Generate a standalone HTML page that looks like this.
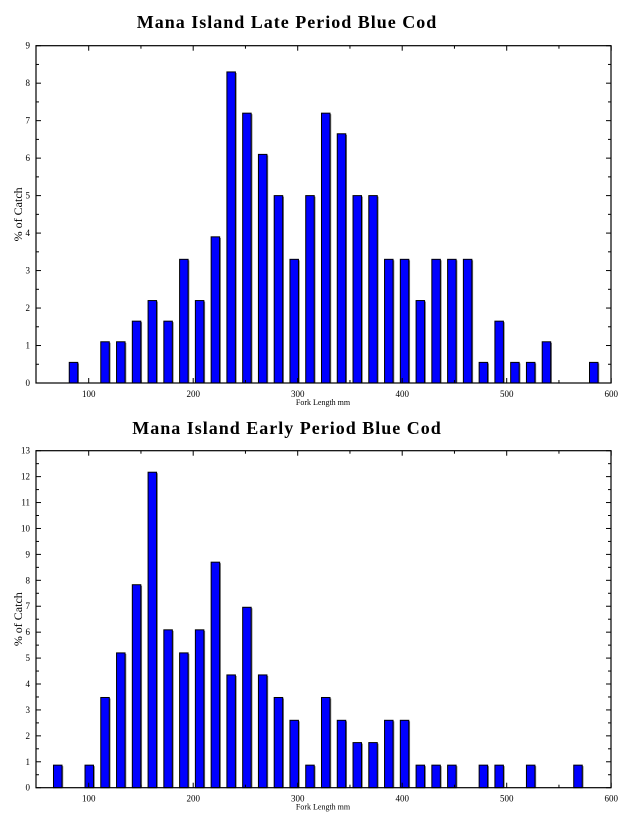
<!DOCTYPE html>
<html><head><meta charset="utf-8"><style>
html,body{margin:0;padding:0;background:#fff;width:637px;height:815px;overflow:hidden}
svg{display:block}
text{font-family:"Liberation Serif",serif;fill:#000}
</style></head><body>
<svg id="s" width="637" height="815" viewBox="0 0 637 815">
<text x="287" y="28" text-anchor="middle" font-size="18" font-weight="bold" letter-spacing="1">Mana Island Late Period Blue Cod</text>
<text x="287" y="434" text-anchor="middle" font-size="18" font-weight="bold" letter-spacing="1">Mana Island Early Period Blue Cod</text>
</svg>
<script>
var s=document.getElementById('s'),NS='http://www.w3.org/2000/svg';
function el(t,a,txt){var e=document.createElementNS(NS,t);for(var k in a)e.setAttribute(k,a[k]);if(txt!=null)e.textContent=txt;s.appendChild(e);return e;}
function X(v){return 73.5+(v-85)*1.051;}
function chart(top,bot,ymax,data,start){
  var L=36,R=611,u=(bot-top)/ymax;
  for(var i=0;i<data.length;i++){var v=data[i];if(!v)continue;var c=X(start+15*i),h=v*u;
    el('rect',{x:c-4+1,y:bot-h+1,width:8.5,height:h-1,fill:'#777'});
    el('rect',{x:c-4.25,y:bot-h,width:8.5,height:h,fill:'#0000ff',stroke:'#000','stroke-width':1});}
  el('rect',{x:L,y:top,width:R-L,height:bot-top,fill:'none',stroke:'#000','stroke-width':1.2});
  for(var k=0;k<=ymax*2;k++){var y=bot-k*u/2,len=k%2?3:5;
    el('line',{x1:L,y1:y,x2:L+len,y2:y,stroke:'#000'});
    el('line',{x1:R,y1:y,x2:R-len,y2:y,stroke:'#000'});
    if(k%2==0)el('text',{x:L-6,y:y+3,'text-anchor':'end','font-size':9},k/2);}
  for(var v=100;v<=600;v+=50){var x=88.7+(v-100)*1.045,len=v%100?3:5;
    el('line',{x1:x,y1:bot,x2:x,y2:bot-len,stroke:'#000'});
    el('line',{x1:x,y1:top,x2:x,y2:top+len,stroke:'#000'});
    if(v%100==0)el('text',{x:x,y:bot+14,'text-anchor':'middle','font-size':9},v);}
  el('text',{x:323,y:bot+22,'text-anchor':'middle','font-size':8},'Fork Length mm');
  var cy=(top+bot)/2;
  el('text',{x:22,y:cy,'text-anchor':'middle','font-size':12,transform:'rotate(-90 22 '+cy+')'},'% of Catch');
}
chart(45.7,383,9,[0.55,0,1.1,1.1,1.65,2.2,1.65,3.3,2.2,3.9,8.3,7.2,6.1,5,3.3,5,7.2,6.65,5,5,3.3,3.3,2.2,3.3,3.3,3.3,0.55,1.65,0.55,0.55,1.1,0,0,0.55],85);
chart(450.7,787.7,13,[0.87,0,0.87,3.48,5.2,7.83,12.17,6.09,5.2,6.09,8.7,4.35,6.96,4.35,3.48,2.6,0.87,3.48,2.6,1.74,1.74,2.6,2.6,0.87,0.87,0.87,0,0.87,0.87,0,0.87,0,0,0.87],70);
</script>
</body></html>
